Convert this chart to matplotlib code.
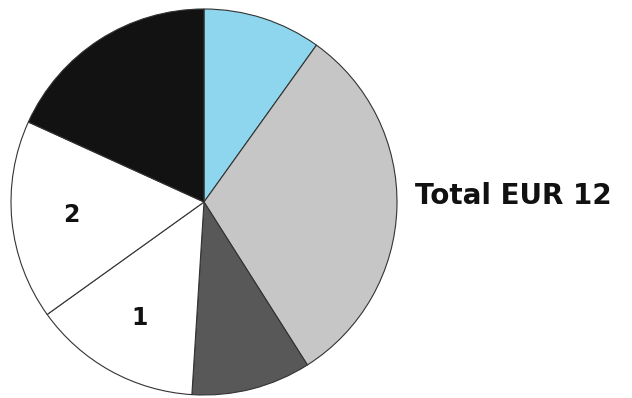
import matplotlib
matplotlib.use("Agg")
import matplotlib.pyplot as plt

shares = [9.9, 31.1, 10.0, 14.1, 16.7, 18.2]
labels = ["", "", "", "1", "2", ""]
colors = ["#8dd6ee", "#c6c6c6", "#585858", "#ffffff", "#ffffff", "#121212"]
total_text = "Total EUR 12"

fig = plt.figure(figsize=(6.32, 3.98), dpi=100)
fig.patch.set_facecolor("white")
ax = fig.add_axes([11/632, 3/398, 386/632, 386/398])
wedges, texts = ax.pie(shares, labels=labels, colors=colors, startangle=90,
                       counterclock=False, labeldistance=0.69,
                       wedgeprops=dict(edgecolor="#333333", linewidth=0.8),
                       textprops=dict(fontsize=17, fontweight="bold", color="#111111",
                                      ha="center", va="center"))
ax.set_aspect("equal")
ax.set_xlim(-1.0, 1.0)
ax.set_ylim(-1.0, 1.0)
ax.axis("off")

fig.text(415/632, 1 - 196/398, total_text, fontsize=20, fontweight="bold",
         family="DejaVu Sans", color="#111111", ha="left", va="center")

fig.savefig("out.png", dpi=100, facecolor="white")
